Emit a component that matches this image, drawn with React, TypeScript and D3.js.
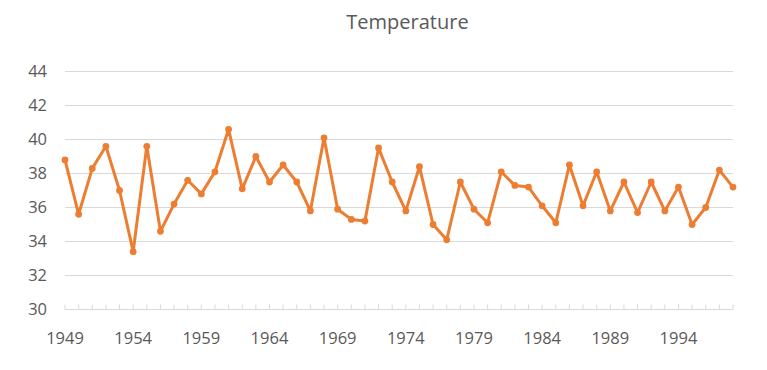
import React from "react";
import * as d3 from "d3";

const years = d3.range(1949, 1999);
const temps = [
  38.8, 35.6, 38.3, 39.6, 37.0, 33.4, 39.6, 34.6, 36.2, 37.6,
  36.8, 38.1, 40.6, 37.1, 39.0, 37.5, 38.5, 37.5, 35.8, 40.1,
  35.9, 35.3, 35.2, 39.5, 37.5, 35.8, 38.4, 35.0, 34.1, 37.5,
  35.9, 35.1, 38.1, 37.3, 37.2, 36.1, 35.1, 38.5, 36.1, 38.1,
  35.8, 37.5, 35.7, 37.5, 35.8, 37.2, 35.0, 36.0, 38.2, 37.2,
];
const yTicks = [30, 32, 34, 36, 38, 40, 42, 44];
const labelYears = years.filter((y) => (y - 1949) % 5 === 0);

const W = 767;
const H = 370;
const textColor = "#595959";
const font = "'Open Sans', sans-serif";

export default function App() {
  const x = d3.scaleLinear().domain([1949, 1998]).range([65, 733]);
  const y = d3.scaleLinear().domain([30, 44]).range([309.5, 71.5]);

  const line = d3
    .line<number>()
    .x((_, i) => x(years[i]))
    .y((d) => y(d));

  return (
    <svg
      width={W}
      height={H}
      style={{ position: "absolute", left: 0, top: 0, background: "#fff" }}
      fontFamily={font}
    >
      <text x={407.5} y={29} textAnchor="middle" fontSize={20} fill={textColor}>
        Temperature
      </text>

      {yTicks.map((t) => (
        <g key={t}>
          <line
            x1={x(1949)}
            x2={x(1998)}
            y1={y(t)}
            y2={y(t)}
            stroke="#d9d9d9"
            strokeWidth={1}
          />
          <text
            x={47}
            y={y(t)}
            dy="0.35em"
            textAnchor="end"
            fontSize={16.5}
            fill={textColor}
          >
            {t}
          </text>
        </g>
      ))}

      {years.map((yr) => (
        <line
          key={yr}
          x1={x(yr)}
          x2={x(yr)}
          y1={y(30)}
          y2={y(30) - 5}
          stroke="#d9d9d9"
        />
      ))}

      {labelYears.map((yr) => (
        <text
          key={yr}
          x={x(yr)}
          y={344}
          textAnchor="middle"
          fontSize={16.5}
          fill={textColor}
        >
          {yr}
        </text>
      ))}

      <path
        d={line(temps) ?? ""}
        fill="none"
        stroke="#ed7d31"
        strokeWidth={3}
        strokeLinejoin="round"
      />
      {temps.map((t, i) => (
        <circle key={i} cx={x(years[i])} cy={y(t)} r={3.4} fill="#ed7d31" />
      ))}
    </svg>
  );
}
